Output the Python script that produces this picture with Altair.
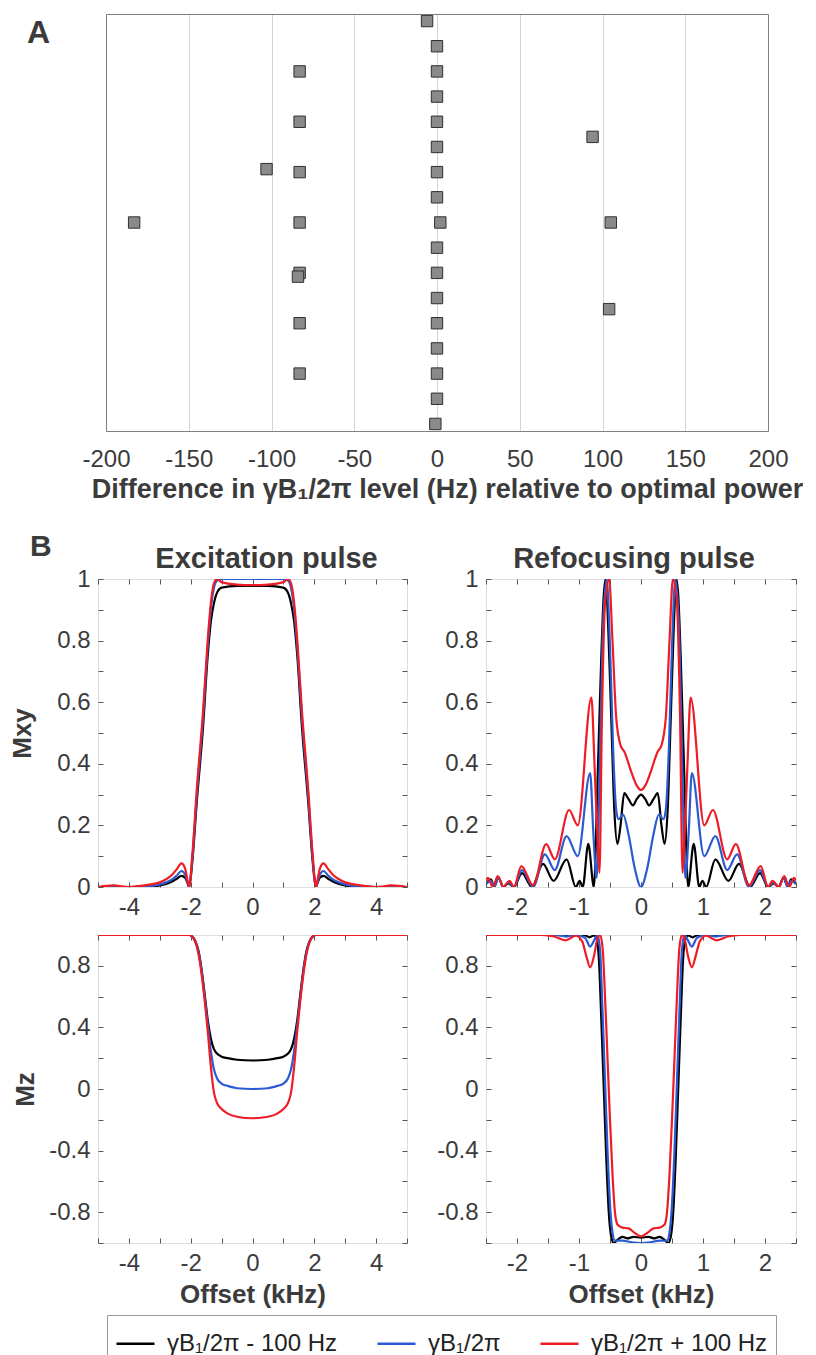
import altair as alt
import pandas as pd

FONT = "Liberation Sans"
TXT = "#3b3b3b"
FRAME = "#808080"
TICK = "#555555"

# ---------------- Panel A data ----------------
a_row = [1, 2, 3, 3, 4, 5, 5, 5.6, 6, 6.88, 7, 7, 8, 9, 9, 9, 9, 10, 11, 11.15,
         11, 12, 12.44, 13, 13, 14, 15, 15, 16, 17]
a_diff = [-6, 0, -83, 0, 0, -83, 0, 94, 0, -103, -83, 0, 0, -183, -83, 2, 105, 0, -83, -84,
          0, 0, 104, -83, 0, 0, -83, 0, 0, -1]
a_ticks = [-200, -150, -100, -50, 0, 50, 100, 150, 200]

# ---------------- Panel B data ----------------
SER = ["γB₁/2π - 100 Hz", "γB₁/2π", "γB₁/2π + 100 Hz"]
COLORS = ["#000000", "#2b5bd1", "#ee1c25"]

# Excitation pulse, Mxy
exc_x = [-5, -4.5, -4, -3.5, -3.2, -3.0, -2.8, -2.6, -2.45, -2.3, -2.18, -2.1, -2.05, -1.95, -1.8,
         -1.6, -1.45, -1.35, -1.25, -1.15, -1.0, -0.5, 0, 0.5, 1.0, 1.15, 1.25, 1.35, 1.45, 1.6,
         1.8, 1.95, 2.05, 2.1, 2.18, 2.3, 2.45, 2.6, 2.8, 3.0, 3.2, 3.5, 4, 4.5, 5]
exc_mxy_black = [0, 0, 0, 0, 0.002, 0.005, 0.01, 0.018, 0.027, 0.036, 0.03, 0.012, 0.0, 0.08, 0.28,
                 0.52, 0.75, 0.86, 0.92, 0.955, 0.972, 0.978, 0.978, 0.978, 0.972, 0.955, 0.92, 0.86, 0.75, 0.52,
                 0.28, 0.08, 0.0, 0.012, 0.03, 0.036, 0.027, 0.018, 0.01, 0.005, 0.002, 0, 0, 0, 0]
exc_mxy_blue = [0, 0, 0, 0.002, 0.004, 0.008, 0.015, 0.025, 0.037, 0.052, 0.04, 0.015, 0.0, 0.09, 0.3,
                0.55, 0.78, 0.9, 0.97, 0.995, 1.0, 1.0, 1.0, 1.0, 1.0, 0.995, 0.97, 0.9, 0.78, 0.55,
                0.3, 0.09, 0.0, 0.015, 0.04, 0.052, 0.037, 0.025, 0.015, 0.008, 0.004, 0.002, 0, 0, 0]
exc_mxy_red = [0, 0.005, 0.0, 0.005, 0.01, 0.015, 0.025, 0.04, 0.058, 0.077, 0.06, 0.02, 0.0, 0.1, 0.32,
               0.57, 0.8, 0.92, 0.985, 1.0, 0.99, 0.982, 0.98, 0.982, 0.99, 1.0, 0.985, 0.92, 0.8, 0.57,
               0.32, 0.1, 0.0, 0.02, 0.06, 0.077, 0.058, 0.04, 0.025, 0.015, 0.01, 0.005, 0.0, 0.005, 0]

# Excitation pulse, Mz
exz_x = [-5, -3, -2.2, -2.05, -1.95, -1.85, -1.75, -1.65, -1.55, -1.45, -1.35, -1.25, -1.15, -1.0,
         -0.8, -0.5, 0, 0.5, 0.8, 1.0, 1.15, 1.25, 1.35, 1.45, 1.55, 1.65, 1.75, 1.85, 1.95, 2.05,
         2.2, 3, 5]
exc_mz_black = [1, 1, 1, 1.0, 0.99, 0.96, 0.9, 0.78, 0.62, 0.45, 0.33, 0.26, 0.23, 0.21,
                0.2, 0.19, 0.185, 0.19, 0.2, 0.21, 0.23, 0.26, 0.33, 0.45, 0.62, 0.78, 0.9, 0.96, 0.99, 1.0,
                1, 1, 1]
exc_mz_blue = [1, 1, 1, 1.0, 0.99, 0.96, 0.89, 0.77, 0.6, 0.42, 0.25, 0.13, 0.07, 0.035,
               0.02, 0.005, 0.0, 0.005, 0.02, 0.035, 0.07, 0.13, 0.25, 0.42, 0.6, 0.77, 0.89, 0.96, 0.99, 1.0,
               1, 1, 1]
exc_mz_red = [1, 1, 1, 1.0, 0.99, 0.955, 0.88, 0.75, 0.58, 0.38, 0.15, -0.02, -0.09, -0.13,
              -0.16, -0.18, -0.19, -0.18, -0.16, -0.13, -0.09, -0.02, 0.15, 0.38, 0.58, 0.75, 0.88, 0.955, 0.99, 1.0,
              1, 1, 1]

# Refocusing pulse, Mxy (each series with its own offsets)
ref_mxy_black_x = [-2.5, -2.42, -2.37, -2.3, -2.22, -2.14, -2.05, -1.92, -1.76, -1.58, -1.41, -1.2, -1.05,
                   -0.99, -0.94, -0.85, -0.76, -0.7, -0.64, -0.6, -0.57, -0.53, -0.48, -0.43, -0.38, -0.33,
                   -0.27, -0.2, -0.13, -0.07, 0, 0.07, 0.13, 0.2, 0.27, 0.33, 0.38, 0.43, 0.48, 0.53, 0.57,
                   0.6, 0.64, 0.7, 0.76, 0.85, 0.94, 0.99, 1.05, 1.2, 1.41, 1.58, 1.76, 1.92, 2.05, 2.14,
                   2.22, 2.3, 2.37, 2.42, 2.5]
ref_mxy_black_y = [0.01, 0.025, 0.0, 0.03, 0.0, 0.012, 0.0, 0.045, 0.0, 0.075, 0.02, 0.09, 0.0,
                   0.02, 0.0, 0.14, 0.0, 0.35, 0.75, 0.95, 1.0, 0.85, 0.55, 0.25, 0.14, 0.2,
                   0.305, 0.285, 0.265, 0.285, 0.30, 0.285, 0.265, 0.285, 0.305, 0.2, 0.14, 0.25, 0.55, 0.85, 1.0,
                   0.95, 0.75, 0.35, 0.0, 0.14, 0.0, 0.02, 0.0, 0.09, 0.02, 0.075, 0.0, 0.045, 0.0, 0.012,
                   0.0, 0.03, 0.0, 0.025, 0.01]
ref_mxy_blue_x = [-2.5, -2.42, -2.37, -2.3, -2.22, -2.14, -2.05, -1.92, -1.74, -1.55, -1.39, -1.2, -1.02,
                  -0.82, -0.77, -0.715, -0.67, -0.62, -0.555, -0.5, -0.45, -0.4, -0.36, -0.29, -0.2, -0.1,
                  0, 0.1, 0.2, 0.29, 0.36, 0.4, 0.45, 0.5, 0.555, 0.62, 0.67, 0.715, 0.77, 0.82, 1.02,
                  1.2, 1.39, 1.55, 1.74, 1.92, 2.05, 2.14, 2.22, 2.3, 2.37, 2.42, 2.5]
ref_mxy_blue_y = [0.01, 0.02, 0.0, 0.03, 0.0, 0.015, 0.0, 0.055, 0.0, 0.106, 0.055, 0.165, 0.1,
                  0.37, 0.18, 0.03, 0.35, 0.8, 1.0, 0.78, 0.45, 0.25, 0.22, 0.236, 0.17, 0.06,
                  0.0, 0.06, 0.17, 0.236, 0.22, 0.25, 0.45, 0.78, 1.0, 0.8, 0.35, 0.03, 0.18, 0.37, 0.1,
                  0.165, 0.055, 0.106, 0.0, 0.055, 0.0, 0.015, 0.0, 0.03, 0.0, 0.02, 0.01]
ref_mxy_red_x = [-2.5, -2.47, -2.39, -2.31, -2.22, -2.12, -2.05, -1.93, -1.74, -1.53, -1.39, -1.16, -1.02,
                 -0.8, -0.75, -0.7, -0.67, -0.63, -0.58, -0.515, -0.46, -0.4, -0.33, -0.27, -0.15, -0.07,
                 0, 0.07, 0.15, 0.27, 0.33, 0.4, 0.46, 0.515, 0.58, 0.63, 0.67, 0.7, 0.75, 0.8, 1.02,
                 1.16, 1.39, 1.53, 1.74, 1.93, 2.05, 2.12, 2.22, 2.31, 2.39, 2.47, 2.5]
ref_mxy_red_y = [0.02, 0.03, 0.0, 0.035, 0.0, 0.02, 0.0, 0.068, 0.005, 0.139, 0.09, 0.25, 0.2,
                 0.615, 0.4, 0.15, 0.046, 0.55, 0.92, 1.0, 0.8, 0.55, 0.46, 0.44, 0.37, 0.33,
                 0.315, 0.33, 0.37, 0.44, 0.46, 0.55, 0.8, 1.0, 0.92, 0.55, 0.046, 0.15, 0.4, 0.615, 0.2,
                 0.25, 0.09, 0.139, 0.005, 0.068, 0.0, 0.02, 0.0, 0.035, 0.0, 0.03, 0.02]

# Refocusing pulse, Mz
ref_mz_black_x = [-2.5, -1.0, -0.9, -0.83, -0.76, -0.72, -0.68, -0.64, -0.6, -0.56, -0.52, -0.48, -0.44,
                  -0.38, -0.3, -0.22, -0.12, 0, 0.12, 0.22, 0.3, 0.38, 0.44, 0.48, 0.52, 0.56, 0.6, 0.64,
                  0.68, 0.72, 0.76, 0.83, 0.9, 1.0, 2.5]
ref_mz_black_y = [1.0, 1.0, 0.997, 0.985, 0.997, 0.98, 0.85, 0.45, 0.0, -0.45, -0.8, -0.96, -1.0,
                  -0.98, -0.96, -0.97, -0.96, -0.965, -0.96, -0.97, -0.96, -0.98, -1.0, -0.96, -0.8, -0.45, 0.0, 0.45,
                  0.85, 0.98, 0.997, 0.985, 0.997, 1.0, 1.0]
ref_mz_blue_x = [-2.5, -1.4, -1.2, -1.05, -0.9, -0.82, -0.75, -0.7, -0.66, -0.62, -0.58, -0.54, -0.5,
                 -0.46, -0.42, -0.3, -0.15, 0, 0.15, 0.3, 0.42, 0.46, 0.5, 0.54, 0.58, 0.62, 0.66, 0.7,
                 0.75, 0.82, 0.9, 1.05, 1.2, 1.4, 2.5]
ref_mz_blue_y = [1.0, 1.0, 0.99, 1.0, 0.98, 0.925, 0.97, 1.0, 0.9, 0.5, 0.05, -0.4, -0.75,
                 -0.93, -0.985, -0.985, -0.995, -1.0, -0.995, -0.985, -0.985, -0.93, -0.75, -0.4, 0.05, 0.5, 0.9, 1.0,
                 0.97, 0.925, 0.98, 1.0, 0.99, 1.0, 1.0]
ref_mz_red_x = [-2.5, -1.6, -1.4, -1.22, -1.05, -0.95, -0.88, -0.82, -0.76, -0.7, -0.66, -0.62, -0.58,
                -0.54, -0.5, -0.46, -0.42, -0.38, -0.3, -0.2, -0.1, 0, 0.1, 0.2, 0.3, 0.38, 0.42, 0.46,
                0.5, 0.54, 0.58, 0.62, 0.66, 0.7, 0.76, 0.82, 0.88, 0.95, 1.05, 1.22, 1.4, 1.6, 2.5]
ref_mz_red_y = [1.0, 1.0, 0.99, 0.965, 0.995, 0.96, 0.86, 0.79, 0.86, 0.98, 1.0, 0.92, 0.6,
                0.2, -0.2, -0.55, -0.8, -0.88, -0.9, -0.905, -0.935, -0.957, -0.935, -0.905, -0.9, -0.88, -0.8, -0.55,
                -0.2, 0.2, 0.6, 0.92, 1.0, 0.98, 0.86, 0.79, 0.86, 0.96, 0.995, 0.965, 0.99, 1.0, 1.0]

exc_x_labels = [-4, -2, 0, 2, 4]
exc_x_ticks = [-5, -4, -3, -2, -1, 0, 1, 2, 3, 4, 5]
ref_x_labels = [-2, -1, 0, 1, 2]
ref_x_ticks = [-2.5, -2, -1.5, -1, -0.5, 0, 0.5, 1, 1.5, 2, 2.5]
mxy_labels = [0, 0.2, 0.4, 0.6, 0.8, 1]
mxy_ticks = [0, 0.1, 0.2, 0.3, 0.4, 0.5, 0.6, 0.7, 0.8, 0.9, 1]
mz_labels = [-0.8, -0.4, 0, 0.4, 0.8]
mz_ticks = [-1, -0.8, -0.6, -0.4, -0.2, 0, 0.2, 0.4, 0.6, 0.8, 1]


def long_df(xs_list, ys_list):
    rows = []
    for s, xs, ys in zip(SER, xs_list, ys_list):
        for x, y in zip(xs, ys):
            rows.append({"series": s, "x": x, "y": y})
    return pd.DataFrame(rows)


LEG = alt.Legend(title=None, orient="none", legendX=9, legendY=1301, direction="horizontal",
                 columns=3, symbolType="stroke", symbolSize=1444, symbolStrokeWidth=2.5,
                 labelFontSize=24, labelFont=FONT, labelColor="#222222", labelOffset=11,
                 columnPadding=34, padding=8, strokeColor="#9a9a9a", fillColor="white",
                 labelLimit=400)
COLOR_SCALE = alt.Scale(domain=SER, range=COLORS)


def anchor(x1, x2, y1, y2):
    # invisible helper that fixes the layout bounds of a panel
    return alt.Chart(pd.DataFrame({"a": [0]})).mark_rule(opacity=0, strokeWidth=0.01).encode(
        x=alt.value(x1), x2=alt.value(x2), y=alt.value(y1), y2=alt.value(y2))


def label_text(text, x, y, size, align="left"):
    return alt.Chart(pd.DataFrame({"t": [text]})).mark_text(
        fontSize=size, fontWeight="bold", font=FONT, color=TXT, align=align, baseline="alphabetic"
    ).encode(text="t:N", x=alt.value(x), y=alt.value(y))


def panel(df, xdom, ydom, xlab, xtick, ylab, ytick, w, h, box, ytitle=None, ytitle_x=-63, xtitle=None,
          title=None, title_dx=0, letter=None):
    xs = alt.Scale(domain=xdom, nice=False, zero=False)
    ys = alt.Scale(domain=ydom, nice=False, zero=False)
    common = dict(ticks=False, domain=False, grid=False, labelFontSize=24, labelPadding=8,
                  labelFlush=False, labelExpr="'' + datum.value", labelColor=TXT, labelFont=FONT)
    if xtitle:
        xa = alt.Axis(values=xlab, title=xtitle, titleFontSize=26, titleFontWeight="bold",
                      titlePadding=6, titleColor=TXT, titleFont=FONT, **common)
    else:
        xa = alt.Axis(values=xlab, title=None, **common)
    if ytitle:
        ya = alt.Axis(values=ylab, title=ytitle, titleFontSize=26, titleFontWeight="bold",
                      titleX=ytitle_x, titleColor=TXT, titleFont=FONT, **common)
    else:
        ya = alt.Axis(values=ylab, title=None, **common)
    lines = alt.Chart(df).mark_line(strokeWidth=2.2, interpolate="monotone", clip=True).encode(
        x=alt.X("x:Q", scale=xs, axis=xa),
        y=alt.Y("y:Q", scale=ys, axis=ya),
        color=alt.Color("series:N", scale=COLOR_SCALE, legend=LEG),
    )
    tk = dict(domain=False, labels=False, grid=False, title=None, ticks=True, tickSize=5,
              tickColor=TICK, tickWidth=1)
    t1 = alt.Chart(df).mark_line(strokeOpacity=0).encode(
        x=alt.X("x:Q", scale=xs, axis=alt.Axis(orient="top", offset=-h, values=xtick, **tk)),
        y=alt.Y("y:Q", scale=ys, axis=alt.Axis(orient="right", offset=-w, values=ytick, **tk)),
    )
    t2 = alt.Chart(df).mark_line(strokeOpacity=0).encode(
        x=alt.X("x:Q", scale=xs, axis=alt.Axis(orient="bottom", offset=-h, values=xtick, **tk)),
        y=alt.Y("y:Q", scale=ys, axis=alt.Axis(orient="left", offset=-w, values=ytick, **tk)),
    )
    layers = [t1, t2, lines, anchor(*box)]
    if letter:
        layers.append(label_text(letter, -68, -23, 30))
    if title:
        layers.append(label_text(title, w / 2 + title_dx, -11, 29, align="center"))
    return alt.layer(*layers).resolve_axis(x="independent", y="independent").properties(width=w, height=h)


# ---------------- Panel A chart ----------------
# The panel-A plot starts 8 px to the right of the panel-B plots: the x scale range is shifted
# and the frame is drawn with axis domain lines.
A_W, A_H, A_SHIFT = 670, 417, 8
dfA = pd.DataFrame({"row": a_row, "diff": a_diff})
xsA = alt.Scale(domain=[-200, 200], range=[A_SHIFT, A_W], nice=False, zero=False)
ysA = alt.Scale(domain=[0.72, 17.28], reverse=True, nice=False, zero=False)
frame = dict(domain=True, domainColor=FRAME, domainWidth=1, ticks=False, labels=False, grid=False, title=None)
ptsA = alt.Chart(dfA).mark_square(size=130, color="#8a8a8a", opacity=1, stroke="#2f2f2f",
                                  strokeWidth=1).encode(
    x=alt.X("diff:Q", scale=xsA,
            axis=alt.Axis(values=a_ticks, grid=True, gridColor="#d4d4d4", gridWidth=1, ticks=False,
                          domain=True, domainColor=FRAME, domainWidth=1, labelFlush=False,
                          labelFontSize=24, labelPadding=16, labelColor=TXT, labelFont=FONT,
                          labelExpr="'' + datum.value",
                          title="Difference in γB₁/2π level (Hz) relative to optimal power",
                          titleFontSize=27, titleFontWeight="bold", titlePadding=5, titleColor=TXT,
                          titleFont=FONT, titleX=349)),
    y=alt.Y("row:Q", scale=ysA, axis=alt.Axis(orient="left", offset=-A_SHIFT, **frame)),
)
frameA = alt.Chart(dfA).mark_square(opacity=0).encode(
    x=alt.X("diff:Q", scale=xsA, axis=alt.Axis(orient="top", **frame)),
    y=alt.Y("row:Q", scale=ysA, axis=alt.Axis(orient="right", **frame)),
)
chartA = alt.layer(frameA, ptsA, label_text("A", -71, 29, 32), anchor(-89, A_W, -1, 514)).resolve_axis(
    x="independent", y="independent").properties(
    width=A_W, height=A_H, view=alt.ViewBackground(strokeOpacity=0))

# ---------------- Panel B charts ----------------
df_exc_mxy = long_df([exc_x, exc_x, exc_x], [exc_mxy_black, exc_mxy_blue, exc_mxy_red])
df_exc_mz = long_df([exz_x, exz_x, exz_x], [exc_mz_black, exc_mz_blue, exc_mz_red])
df_ref_mxy = long_df([ref_mxy_black_x, ref_mxy_blue_x, ref_mxy_red_x],
                     [ref_mxy_black_y, ref_mxy_blue_y, ref_mxy_red_y])
df_ref_mz = long_df([ref_mz_black_x, ref_mz_blue_x, ref_mz_red_x],
                    [ref_mz_black_y, ref_mz_blue_y, ref_mz_red_y])

c11 = panel(df_exc_mxy, [-5, 5], [0, 1], exc_x_labels, exc_x_ticks, mxy_labels, mxy_ticks, 309, 308,
            (-89, 319, -50, 349), ytitle="Mxy", ytitle_x=-63, title="Excitation pulse", title_dx=14,
            letter="B")
c12 = panel(df_ref_mxy, [-2.5, 2.5], [0, 1], ref_x_labels, ref_x_ticks, mxy_labels, mxy_ticks, 310, 308,
            (-60, 310, -50, 349), title="Refocusing pulse", title_dx=-7)
c21 = panel(df_exc_mz, [-5, 5], [-1, 1], exc_x_labels, exc_x_ticks, mz_labels, mz_ticks, 309, 308,
            (-89, 319, -5, 300), ytitle="Mz", ytitle_x=-60, xtitle="Offset (kHz)")
c22 = panel(df_ref_mz, [-2.5, 2.5], [-1, 1], ref_x_labels, ref_x_ticks, mz_labels, mz_ticks, 310, 308,
            (-60, 310, -5, 300), xtitle="Offset (kHz)")

row1 = alt.hconcat(c11, c12, spacing=7)
row2 = alt.hconcat(c21, c22, spacing=7)

chart = alt.vconcat(chartA, row1, row2, spacing=0).properties(
    padding={"left": 0, "top": 5, "right": 0, "bottom": 5}
).configure_view(stroke=FRAME, strokeWidth=1).configure(font=FONT)

chart.save("out.html", embed_options={"renderer": "svg", "actions": False})
